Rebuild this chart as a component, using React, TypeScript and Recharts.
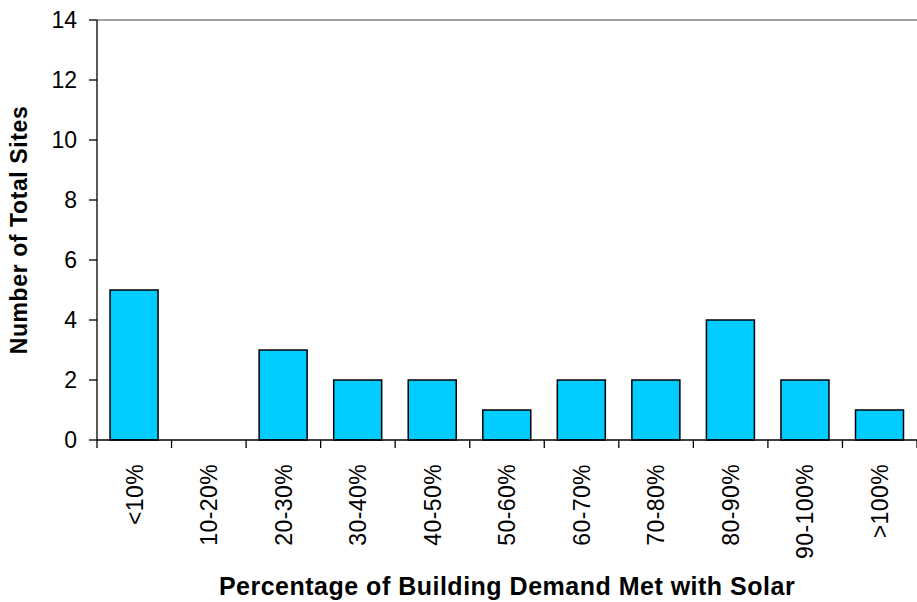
import React from 'react';
import { BarChart, Bar, XAxis, YAxis, ReferenceLine } from 'recharts';

const categories = ['<10%', '10-20%', '20-30%', '30-40%', '40-50%', '50-60%', '60-70%', '70-80%', '80-90%', '90-100%', '>100%'];
const siteCounts = [5, 0, 3, 2, 2, 1, 2, 2, 4, 2, 1];
const yTicks = [0, 2, 4, 6, 8, 10, 12, 14];

const data = categories.map((c, i) => ({ name: c, sites: siteCounts[i] }));

const FONT = '"Liberation Sans", Arial, sans-serif';

const XTick = (props: any) => {
  const { x, y, payload, index, visibleTicksCount } = props;
  const half = payload && payload.offset ? payload.offset : 37.27;
  const ty = y + 24;
  const last = index === (visibleTicksCount ? visibleTicksCount - 1 : categories.length - 1);
  return (
    <g>
      <line x1={x - half} x2={x - half} y1={y} y2={y + 8} stroke="#000" strokeWidth={1.3} />
      {last && <line x1={x + half} x2={x + half} y1={y} y2={y + 8} stroke="#000" strokeWidth={1.3} />}
      <text
        x={x}
        y={ty}
        dy="0.36em"
        transform={`rotate(-90, ${x}, ${ty})`}
        textAnchor="end"
        fontSize={23}
        letterSpacing={0.4}
        fill="#000"
        fontFamily={FONT}
      >
        {payload.value}
      </text>
    </g>
  );
};

const XTitle = (props: any) => {
  const vb = props.viewBox || {};
  const cx = vb.x + vb.width / 2;
  return (
    <text x={cx} y={595} textAnchor="middle" fontSize={25} fontWeight="bold" letterSpacing={0.5} fill="#000" fontFamily={FONT}>
      Percentage of Building Demand Met with Solar
    </text>
  );
};

const YTitle = (props: any) => {
  const vb = props.viewBox || {};
  const cy = vb.y + vb.height / 2;
  const cx = 27;
  return (
    <text x={cx} y={cy} transform={`rotate(-90, ${cx}, ${cy})`} textAnchor="middle" fontSize={23} fontWeight="bold" letterSpacing={0.6} fill="#000" fontFamily={FONT}>
      Number of Total Sites
    </text>
  );
};

export default function App() {
  return (
    <div style={{ position: 'absolute', left: 0, top: 0, width: 917, height: 602, background: '#fff' }}>
      <BarChart
        width={917}
        height={602}
        data={data}
        margin={{ top: 20, right: 0, left: 0, bottom: 0 }}
        barCategoryGap="17.5%"
        style={{ fontFamily: FONT }}
      >
        <ReferenceLine y={14} stroke="#808080" strokeWidth={1.5} />
        <XAxis
          dataKey="name"
          height={162}
          interval={0}
          tickLine={false}
          tickSize={0}
          tickMargin={0}
          axisLine={{ stroke: '#000', strokeWidth: 1.3 }}
          tick={<XTick />}
          label={<XTitle />}
        />
        <YAxis
          width={97}
          domain={[0, 14]}
          ticks={yTicks}
          interval={0}
          tickSize={8}
          tickMargin={12}
          tickLine={{ stroke: '#000', strokeWidth: 1.3 }}
          axisLine={{ stroke: '#000', strokeWidth: 1.3 }}
          tick={{ fontSize: 23, fill: '#000', fontFamily: FONT }}
          label={<YTitle />}
        />
        <Bar dataKey="sites" fill="#00CCFF" stroke="#000" strokeWidth={1.5} isAnimationActive={false} />
      </BarChart>
    </div>
  );
}
